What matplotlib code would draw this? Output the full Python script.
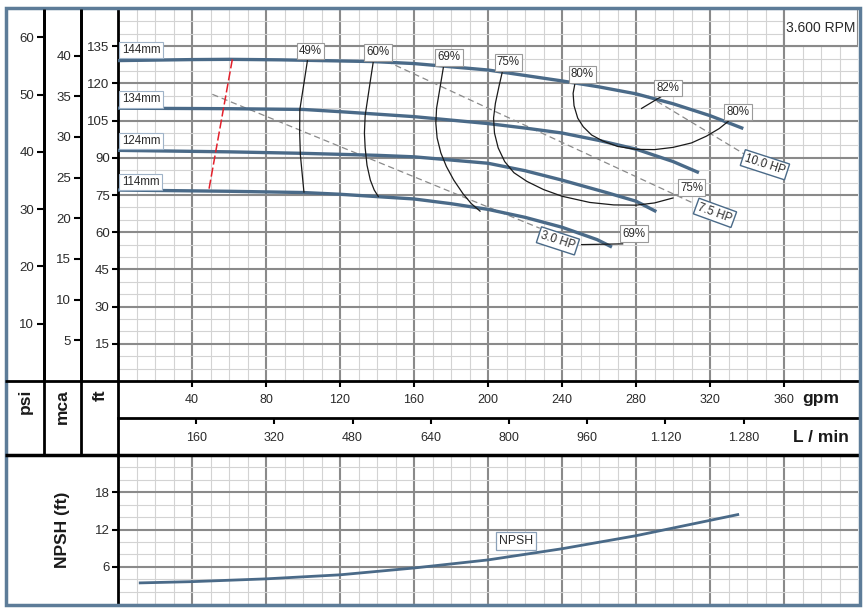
import matplotlib
matplotlib.use('Agg')
import matplotlib.pyplot as plt
from matplotlib.lines import Line2D
from matplotlib.patches import Rectangle

plt.rcParams['font.family'] = ['Liberation Sans', 'DejaVu Sans']

W, H = 868, 611

# head curves, head (ft) against flow (gpm)
q_144 = [0, 40, 60, 88, 138, 160, 200, 240, 260, 280, 300, 320, 338]
h_144 = [129.2, 129.6, 129.7, 129.5, 128.8, 128.0, 125.4, 121.0, 118.6, 115.8, 111.8, 107.0, 101.8]
q_134 = [0, 60, 100, 120, 160, 200, 220, 240, 260, 280, 300, 314]
h_134 = [110.0, 109.8, 109.5, 108.6, 106.6, 103.8, 102.0, 100.0, 97.0, 93.5, 88.5, 84.0]
q_124 = [0, 60, 100, 140, 160, 200, 220, 240, 264, 280, 291]
h_124 = [93.0, 92.4, 91.8, 91.0, 90.4, 87.8, 84.8, 81.0, 76.0, 72.5, 68.3]
q_114 = [0, 60, 100, 120, 160, 180, 200, 220, 240, 259, 267]
h_114 = [77.0, 76.5, 76.0, 75.3, 73.4, 71.5, 69.2, 66.0, 62.0, 57.0, 54.0]
diameters = ['144mm', '134mm', '124mm', '114mm']
diam_label_ft = [133.5, 113.6, 96.8, 80.2]

# iso-efficiency lines
eff_49_q = [102.5, 100.5, 98.3, 98.2, 98.6, 100.5]
eff_49_h = [129.7, 120.0, 109.5, 100.0, 91.0, 76.2]
eff_60_q = [138.0, 136.6, 135.0, 133.6, 133.2, 133.6, 134.6, 136.4, 138.5, 140.7]
eff_60_h = [128.8, 122.0, 114.0, 107.0, 100.0, 94.0, 87.0, 81.0, 77.0, 74.4]
eff_69_q = [176.0, 174.0, 172.2, 171.8, 172.5, 174.5, 177.5, 181.5, 186.5, 191.0, 195.7]
eff_69_h = [127.0, 118.0, 110.0, 104.0, 98.0, 92.0, 86.5, 81.0, 75.5, 71.5, 68.5]
eff_75_q = [208, 206, 204, 203, 203.5, 205.5, 209, 214, 221, 230, 240, 255, 268, 280, 290, 300]
eff_75_h = [125.5, 119, 112, 106, 100, 94, 88.5, 84, 80.5, 77.2, 74.5, 72, 71, 70.9, 71.8, 73.8]
eff_80_q = [247, 246, 246.5, 248.5, 251.5, 256, 262, 270, 280, 290, 300, 310, 318, 325, 330]
eff_80_h = [120, 116, 111, 106, 102.5, 99.2, 96.8, 94.6, 93.4, 93.3, 94.2, 96, 98.7, 101.8, 104.8]
eff_82_q = [283, 294.8]
eff_82_h = [109.9, 115.2]
eff_69b_q = [250.6, 272.8]
eff_69b_h = [55.0, 55.3]
eff_labels = ['49%', '60%', '69%', '75%', '80%', '82%', '80%', '75%', '69%']
eff_label_q = [104, 140.5, 179, 211, 251, 297.3, 335, 310, 279]
eff_label_h = [133, 132.5, 130.5, 128.5, 123.7, 118.1, 108.4, 78, 59.4]

# power lines
hp_labels = ['3.0 HP', '7.5 HP', '10.0 HP']
hp_q = [[51, 228], [145, 311], [286.6, 339]]
hp_h = [[115.6, 61.6], [129, 71.7], [114.9, 91.3]]
hp_label_q = [237.8, 322.7, 349.7]
hp_label_h = [56.5, 67.8, 87.2]
hp_rot = [-18, -20, -18]

# minimum flow line
red_q = [61.8, 49]
red_h = [129.7, 76.6]

# NPSH required
npsh_q = [12, 40, 80, 120, 160, 200, 240, 280, 335]
npsh_h = [3.4, 3.6, 4.05, 4.7, 5.8, 7.1, 8.9, 11.0, 14.4]

gpm_ticks = [40, 80, 120, 160, 200, 240, 280, 320, 360]
lpm_ticks = [160, 320, 480, 640, 800, 960, 1120, 1280]
lpm_labels = ['160', '320', '480', '640', '800', '960', '1.120', '1.280']
ft_ticks = [15, 30, 45, 60, 75, 90, 105, 120, 135]
psi_ticks = [10, 20, 30, 40, 50, 60]
mca_ticks = [5, 10, 15, 20, 25, 30, 35, 40]
npsh_ticks = [6, 12, 18]

CURVE = '#4a6a88'
BORDER = '#5d7c98'
MAJOR = '#8a8a8a'
MINOR = '#d3d3d3'
TXT = '#2a2a2a'
SMALL = 8.3


def fx(x):
    return x / W


def fy(y):
    return 1 - y / H


fig = plt.figure(figsize=(W / 100, H / 100), dpi=100)
fig.patch.set_facecolor('white')

ax = fig.add_axes([fx(118), fy(381), fx(858) - fx(118), fy(9) - fy(381)])
ax2 = fig.add_axes([fx(118), fy(604), fx(858) - fx(118), fy(455) - fy(604)])

for a in (ax, ax2):
    a.set_xlim(0, 400)
    a.set_axisbelow(True)
    a.set_xticks(range(0, 401, 10), minor=True)
    a.grid(which='minor', color=MINOR, lw=0.8)
    a.grid(which='major', color=MAJOR, lw=1.5)
    a.spines['right'].set_visible(False)
    a.spines['left'].set_linewidth(2)
    a.tick_params(axis='both', which='minor', length=0)
    a.tick_params(axis='y', length=4, width=1.5, pad=2, labelsize=9.5, labelcolor=TXT)

ax.set_ylim(0, 150)
ax.set_yticks(ft_ticks)
ax.set_yticks(range(0, 151, 5), minor=True)
ax.set_xticks(gpm_ticks)
ax.tick_params(axis='x', length=4, width=1.5, pad=5.5, labelsize=9, labelcolor=TXT)
ax.spines['top'].set_visible(False)
ax.spines['bottom'].set_linewidth(2)

ax2.set_ylim(0, 24)
ax2.set_yticks(npsh_ticks)
ax2.set_yticks(range(0, 25, 2), minor=True)
ax2.set_xticks(gpm_ticks)
ax2.tick_params(axis='x', length=0, labelbottom=False)
ax2.spines['bottom'].set_visible(False)
ax2.spines['top'].set_linewidth(2.5)

# L/min scale under the gpm scale
sec = ax.secondary_xaxis(-(418 - 381) / 372, functions=(lambda g: g * 3.785, lambda l: l / 3.785))
sec.set_xticks(lpm_ticks, lpm_labels)
sec.tick_params(length=4, width=1.5, pad=6, labelsize=9, labelcolor=TXT)
sec.spines['bottom'].set_linewidth(2)

psi = ax.secondary_yaxis(-(118 - 44) / 740, functions=(lambda f: f / 2.31, lambda p: p * 2.31))
psi.set_yticks(psi_ticks)
mca = ax.secondary_yaxis(-(118 - 81) / 740, functions=(lambda f: f * 0.3048, lambda m: m / 0.3048))
mca.set_yticks(mca_ticks)
for s in (psi, mca):
    s.tick_params(length=5, width=1.5, pad=2, labelsize=9.5, labelcolor=TXT)
    s.spines['left'].set_linewidth(2)

# pump curves
for q, h, name, ly in zip([q_144, q_134, q_124, q_114], [h_144, h_134, h_124, h_114],
                          diameters, diam_label_ft):
    ax.plot(q, h, color=CURVE, lw=2.4, solid_capstyle='butt', solid_joinstyle='round', zorder=3)
    ax.text(2.0, ly, name, fontsize=SMALL, color=TXT, ha='left', va='center', zorder=6,
            bbox=dict(boxstyle='square,pad=0.2', fc='white', ec='#9fb3c8', lw=0.8))

for q, h in [(eff_49_q, eff_49_h), (eff_60_q, eff_60_h), (eff_69_q, eff_69_h),
             (eff_75_q, eff_75_h), (eff_80_q, eff_80_h), (eff_82_q, eff_82_h),
             (eff_69b_q, eff_69b_h)]:
    ax.plot(q, h, color='#1a1a1a', lw=0.9, solid_joinstyle='round', zorder=4)
for t, q, h in zip(eff_labels, eff_label_q, eff_label_h):
    ax.text(q, h, t, fontsize=SMALL, color=TXT, ha='center', va='center', zorder=6,
            bbox=dict(boxstyle='square,pad=0.2', fc='white', ec='#9a9a9a', lw=0.8))

for q, h in zip(hp_q, hp_h):
    ax.plot(q, h, color='#8a8a8a', lw=0.9, ls=(0, (5, 3)), zorder=2.5)
for t, q, h, r in zip(hp_labels, hp_label_q, hp_label_h, hp_rot):
    ax.text(q, h, t, fontsize=SMALL, color=TXT, ha='center', va='center', rotation=r,
            rotation_mode='anchor', zorder=6,
            bbox=dict(boxstyle='square,pad=0.2', fc='white', ec=CURVE, lw=1))

ax.plot(red_q, red_h, color='#e3202b', lw=1.1, ls=(0, (6, 2)), zorder=4)

# speed box
ax.add_patch(Rectangle((360, 135), 40, 15, fc='white', ec=MAJOR, lw=1.5, zorder=1))
ax.text(380, 142.5, '3.600 RPM', fontsize=10, color=TXT, ha='center', va='center', zorder=6)

ax2.plot(npsh_q, npsh_h, color=CURVE, lw=2, solid_joinstyle='round', zorder=3)
ax2.text(215, 10.1, 'NPSH', fontsize=8.8, color=TXT, ha='center', va='center', zorder=6,
         bbox=dict(boxstyle='square,pad=0.25', fc='white', ec='#8aa0b8', lw=0.9))


# table lines around the scales
def fline(x0, y0, x1, y1, lw=2):
    fig.add_artist(Line2D([fx(x0), fx(x1)], [fy(y0), fy(y1)], color='black', lw=lw,
                          solid_capstyle='butt'))


fline(5, 381, 118, 381)
fline(5, 455, 118, 455, lw=2.5)
fline(44, 9, 44, 455)
fline(81, 9, 81, 455)
fline(118, 381, 118, 455)

bold = dict(fontsize=12.5, fontweight='bold', color='#1a1a1a')
fig.text(fx(25), fy(389), 'psi', rotation=90, ha='center', va='top', **bold)
fig.text(fx(62), fy(389), 'mca', rotation=90, ha='center', va='top', **bold)
fig.text(fx(100), fy(389), 'ft', rotation=90, ha='center', va='top', **bold)
fig.text(fx(821), fy(399), 'gpm', ha='center', va='center', **bold)
fig.text(fx(821), fy(437), 'L / min', ha='center', va='center', **bold)
fig.text(fx(62), fy(530), 'NPSH (ft)', rotation=90, ha='center', va='center', **bold)

fig.add_artist(Rectangle((fx(5.5), fy(605)), fx(860) - fx(5.5), fy(8) - fy(605),
                         fill=False, ec=BORDER, lw=2.5))

fig.savefig('out.png', dpi=100)
